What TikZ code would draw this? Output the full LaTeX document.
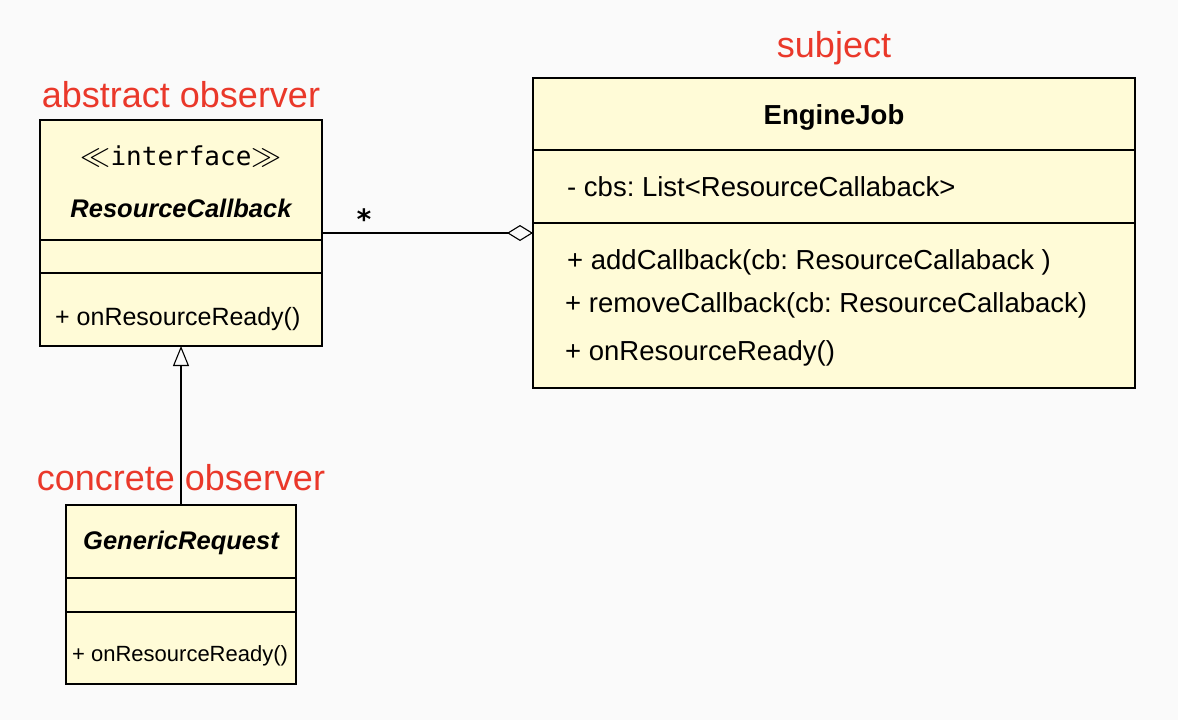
\documentclass[tikz,border=0pt]{standalone}
\usepackage{fix-cm}
\usepackage{fontspec}
\setmainfont{Liberation Sans}
\newfontfamily\monof{DejaVu Sans Mono}
\usetikzlibrary{arrows.meta}
\frenchspacing
\definecolor{bgc}{RGB}{250,250,250}
\definecolor{boxc}{RGB}{255,251,215}
\definecolor{lblc}{RGB}{234,56,42}
\newcommand{\fsz}[1]{\fontsize{#1pt}{#1pt}\selectfont}
\newcommand{\bigll}{{\fsz{30}$\ll$}}
\newcommand{\biggg}{{\fsz{30}$\gg$}}
\tikzset{
  umlbox/.style={draw=black, fill=boxc, line width=1.1pt, inner sep=0pt, outer sep=0pt, rectangle},
  divider/.style={draw=black, line width=1.1pt},
  lbl/.style={text=lblc, inner sep=0pt, anchor=base, font=\fsz{36}},
  txt/.style={inner sep=0pt, anchor=base west, text=black},
  ctxt/.style={inner sep=0pt, anchor=base, text=black},
  conn/.style={draw=black, line width=1.1pt},
}
\begin{document}
\begin{tikzpicture}[x=1pt,y=-1pt]
\useasboundingbox (0,0) rectangle (1178,720);
\fill[bgc] (0,0) rectangle (1178,720);

% ResourceCallback
\node[umlbox, minimum width=282pt, minimum height=226pt] (rc) at (181,233) {};
\draw[divider] (rc.west |- 0,240) -- (rc.east |- 0,240);
\draw[divider] (rc.west |- 0,273) -- (rc.east |- 0,273);
\node[ctxt, font=\monof\fsz{26}] (rcst) at (181,165) {\bigll interface\biggg};
\node[ctxt, font=\bfseries\itshape\fsz{25.5}] (rct) at (181,217) {ResourceCallback};
\node[txt, font=\fsz{25}] (rcm) at (55,325) {+ onResourceReady()};

% EngineJob
\node[umlbox, minimum width=602pt, minimum height=310pt] (ej) at (834,233) {};
\draw[divider] (ej.west |- 0,150) -- (ej.east |- 0,150);
\draw[divider] (ej.west |- 0,223) -- (ej.east |- 0,223);
\node[ctxt, font=\bfseries\fsz{27.5}] (ejt) at (834,124) {EngineJob};
\node[txt, font=\fsz{27.5}] (eja) at (567,196) {- cbs: List<ResourceCallaback>};
\node[txt, font=\fsz{27.5}] (ejm1) at (567,269) {+ addCallback(cb: ResourceCallaback )};
\node[txt, font=\fsz{27.5}] (ejm2) at (565,312) {+ removeCallback(cb: ResourceCallaback)};
\node[txt, font=\fsz{27.5}] (ejm3) at (565,360) {+ onResourceReady()};

% GenericRequest
\node[umlbox, minimum width=230pt, minimum height=179pt] (gr) at (181,594.5) {};
\draw[divider] (gr.west |- 0,578) -- (gr.east |- 0,578);
\draw[divider] (gr.west |- 0,612) -- (gr.east |- 0,612);
\node[ctxt, font=\bfseries\itshape\fsz{25.5}] (grt) at (181,549) {GenericRequest};
\node[txt, font=\fsz{22}] (grm) at (72,661) {+ onResourceReady()};

% connectors
\draw[conn, -{Diamond[open, length=26pt, width=16pt, line width=1.1pt]}] (rc.east) -- (rc.east -| ej.west);
\node[ctxt, font=\monof\bfseries\fsz{28}] (mult) at (364,229) {*};
\draw[conn, -{Triangle[open, length=20pt, width=16pt, line width=1.1pt]}] (gr.north) -- (gr.north |- rc.south);

% labels
\node[lbl] (l1) at (181,107) {abstract observer};
\node[lbl] (l2) at (834,57) {subject};
\node[lbl] (l3) at (181,490) {concrete observer};
\end{tikzpicture}
\end{document}
